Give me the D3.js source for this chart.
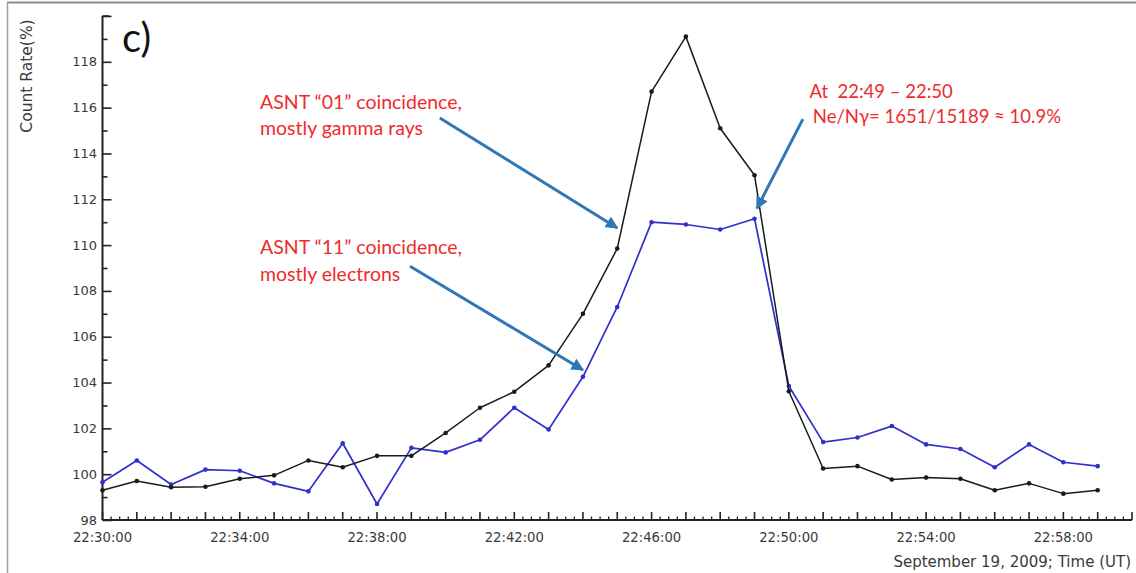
<!DOCTYPE html>
<html>
<head>
<meta charset="utf-8">
<script src="https://cdn.jsdelivr.net/npm/d3@7/dist/d3.min.js"></script>
<style>
  html, body { margin: 0; padding: 0; background: #fff; }
  svg { display: block; }
  .keep-space { white-space: pre; }
</style>
</head>
<body>
<svg id="chart" width="1136" height="573"></svg>
<script>
// Minute-by-minute count rates, 22:30 – 22:59 UT, 19 Sep 2009
const startTime = "2009-09-19T22:30:00Z";
const endTime = "2009-09-19T23:00:00Z";
const minutes = d3.range(0, 30); // minute offsets from 22:30

// ASNT "01" coincidence (mostly gamma rays)
const gammaRates = [
  99.3, 99.7, 99.43, 99.45, 99.8, 99.95, 100.6, 100.3, 100.8, 100.8,
  101.8, 102.9, 103.6, 104.75, 107.0, 109.85, 116.7, 119.1, 115.1, 113.05,
  103.62, 100.25, 100.35, 99.77, 99.85, 99.8, 99.3, 99.6, 99.15, 99.3
];

// ASNT "11" coincidence (mostly electrons)
const electronRates = [
  99.65, 100.6, 99.55, 100.2, 100.15, 99.6, 99.25, 101.35, 98.7, 101.15,
  100.95, 101.5, 102.9, 101.95, 104.25, 107.3, 111.0, 110.9, 110.68, 111.15,
  103.85, 101.4, 101.6, 102.1, 101.3, 101.1, 100.3, 101.3, 100.52, 100.35
];

const yTickValues = [98, 100, 102, 104, 106, 108, 110, 112, 114, 116, 118];
const xLabelMinutes = [0, 4, 8, 12, 16, 20, 24, 28];

const svg = d3.select("#chart");
const t0 = new Date(startTime);
const atMinute = m => new Date(t0.getTime() + m * 60000);

const x = d3.scaleUtc()
  .domain([t0, new Date(endTime)])
  .range([102.5, 1132]);
const y = d3.scaleLinear()
  .domain([98, 120])
  .range([520, 16]);

// outer frame lines of the figure panel
svg.append("line").attr("x1", 7).attr("x2", 1136).attr("y1", 2.5).attr("y2", 2.5)
  .attr("stroke", "#8a8a8a").attr("stroke-width", 2);
svg.append("line").attr("x1", 7.5).attr("x2", 7.5).attr("y1", 2).attr("y2", 573)
  .attr("stroke", "#a0a0a0").attr("stroke-width", 1.5);

const axisColor = "#222";
const labelFont = "'DejaVu Sans', Verdana, sans-serif";
const labelColor = "#3a3a3a";

// y axis: major ticks every 2, minor every 1, ticks pointing inward
const yAxis = d3.axisRight(y)
  .tickValues(d3.range(98, 121, 1))
  .tickSize(0)
  .tickFormat("");
const gy = svg.append("g").attr("transform", `translate(${x.range()[0]},0)`).call(yAxis);
gy.select(".domain").remove();
svg.append("line")
  .attr("x1", x.range()[0]).attr("x2", x.range()[0])
  .attr("y1", y(120)).attr("y2", y(98))
  .attr("stroke", axisColor).attr("stroke-width", 2);
gy.selectAll(".tick line")
  .attr("x2", d => (d % 2 === 0 ? 9 : 5))
  .attr("stroke", axisColor).attr("stroke-width", 1.6);
// cap at top of the y axis
svg.append("line")
  .attr("x1", x.range()[0]).attr("x2", x.range()[0] + 7)
  .attr("y1", y(120)).attr("y2", y(120))
  .attr("stroke", axisColor).attr("stroke-width", 1.6);

svg.append("g").selectAll("text")
  .data(yTickValues)
  .join("text")
  .attr("x", 97)
  .attr("y", d => y(d) + 4.5)
  .attr("text-anchor", "end")
  .attr("font-family", labelFont)
  .attr("font-size", 13)
  .attr("fill", labelColor)
  .text(d => d);

// x axis: major ticks every minute, minor every 15 s, pointing inward
const xMinor = d3.utcSecond.every(15).range(x.domain()[0], new Date(x.domain()[1].getTime() + 1));
svg.append("g").selectAll("line")
  .data(xMinor)
  .join("line")
  .attr("x1", d => x(d)).attr("x2", d => x(d))
  .attr("y1", y(98))
  .attr("y2", d => y(98) - (d.getUTCSeconds() === 0 ? 8 : 3.5))
  .attr("stroke", axisColor)
  .attr("stroke-width", d => (d.getUTCSeconds() === 0 ? 1.6 : 1.3));
svg.append("line")
  .attr("x1", x.range()[0]).attr("x2", x.range()[1])
  .attr("y1", y(98)).attr("y2", y(98))
  .attr("stroke", axisColor).attr("stroke-width", 2);

const fmt = d3.utcFormat("%H:%M:%S");
svg.append("g").selectAll("text")
  .data(xLabelMinutes)
  .join("text")
  .attr("x", d => x(atMinute(d)))
  .attr("y", 542)
  .attr("text-anchor", "middle")
  .attr("font-family", labelFont)
  .attr("font-size", 13.2)
  .attr("fill", labelColor)
  .text(d => fmt(atMinute(d)));

svg.append("text")
  .attr("x", 1131).attr("y", 567)
  .attr("text-anchor", "end")
  .attr("font-family", labelFont)
  .attr("font-size", 15)
  .attr("fill", labelColor)
  .text("September 19, 2009; Time (UT)");

svg.append("text")
  .attr("transform", "translate(32,76) rotate(-90)")
  .attr("text-anchor", "middle")
  .attr("font-family", labelFont)
  .attr("font-size", 15.5)
  .attr("fill", labelColor)
  .text("Count Rate(%)");

svg.append("text")
  .attr("x", 122).attr("y", 52)
  .attr("font-family", "Lato, 'Open Sans', sans-serif")
  .attr("font-size", 40)
  .attr("fill", "#111")
  .text("c)");

// series lines with point markers
const series = [
  { values: electronRates, color: "#3030cc", width: 1.7 },
  { values: gammaRates, color: "#1a1a1a", width: 1.5 }
];
const line = d3.line()
  .x((d, i) => x(atMinute(minutes[i])))
  .y(d => y(d));

series.forEach(s => {
  svg.append("path")
    .datum(s.values)
    .attr("fill", "none")
    .attr("stroke", s.color)
    .attr("stroke-width", s.width)
    .attr("stroke-linejoin", "round")
    .attr("d", line);
  svg.append("g").selectAll("circle")
    .data(s.values)
    .join("circle")
    .attr("cx", (d, i) => x(atMinute(minutes[i])))
    .attr("cy", d => y(d))
    .attr("r", 2.3)
    .attr("fill", s.color);
});

// annotations (positions in data units: minutes after 22:30, count rate)
const arrowColor = "#2f78b8";
const textColor = "#ee2b2b";
const annoFont = "Lato, 'Open Sans', sans-serif";

svg.append("defs").append("marker")
  .attr("id", "head")
  .attr("viewBox", "0 0 10 10")
  .attr("refX", 9).attr("refY", 5)
  .attr("markerWidth", 4.2).attr("markerHeight", 4.2)
  .attr("orient", "auto")
  .append("path")
  .attr("d", "M0,0 L10,5 L0,10 Z")
  .attr("fill", arrowColor);

const arrows = [
  { from: [9.83, 115.55], to: [15.0, 110.75] },
  { from: [8.96, 109.08], to: [14.0, 104.55] },
  { from: [20.41, 115.5], to: [19.07, 111.6] }
];
svg.append("g").selectAll("line")
  .data(arrows)
  .join("line")
  .attr("x1", d => x(atMinute(d.from[0])))
  .attr("y1", d => y(d.from[1]))
  .attr("x2", d => x(atMinute(d.to[0])))
  .attr("y2", d => y(d.to[1]))
  .attr("stroke", arrowColor)
  .attr("stroke-width", 3)
  .attr("marker-end", "url(#head)");

const notes = [
  { at: [4.59, 115.95], size: 19.5, text: "ASNT \u201C01\u201D coincidence," },
  { at: [4.59, 114.8], size: 19.5, text: "mostly gamma rays" },
  { at: [4.59, 109.6], size: 19.5, text: "ASNT \u201C11\u201D coincidence," },
  { at: [4.59, 108.45], size: 19.5, text: "mostly electrons" },
  { at: [20.6, 116.42], size: 18.5, text: "At  22:49 \u2013 22:50" },
  { at: [20.7, 115.35], size: 18.5, text: "Ne/N\u03B3= 1651/15189 \u2248 10.9%" }
];
svg.append("g").selectAll("text")
  .data(notes)
  .join("text")
  .attr("class", "keep-space")
  .attr("x", d => x(atMinute(d.at[0])))
  .attr("y", d => y(d.at[1]))
  .attr("font-family", annoFont)
  .attr("font-size", d => d.size)
  .attr("fill", textColor)
  .text(d => d.text);
</script>
</body>
</html>
